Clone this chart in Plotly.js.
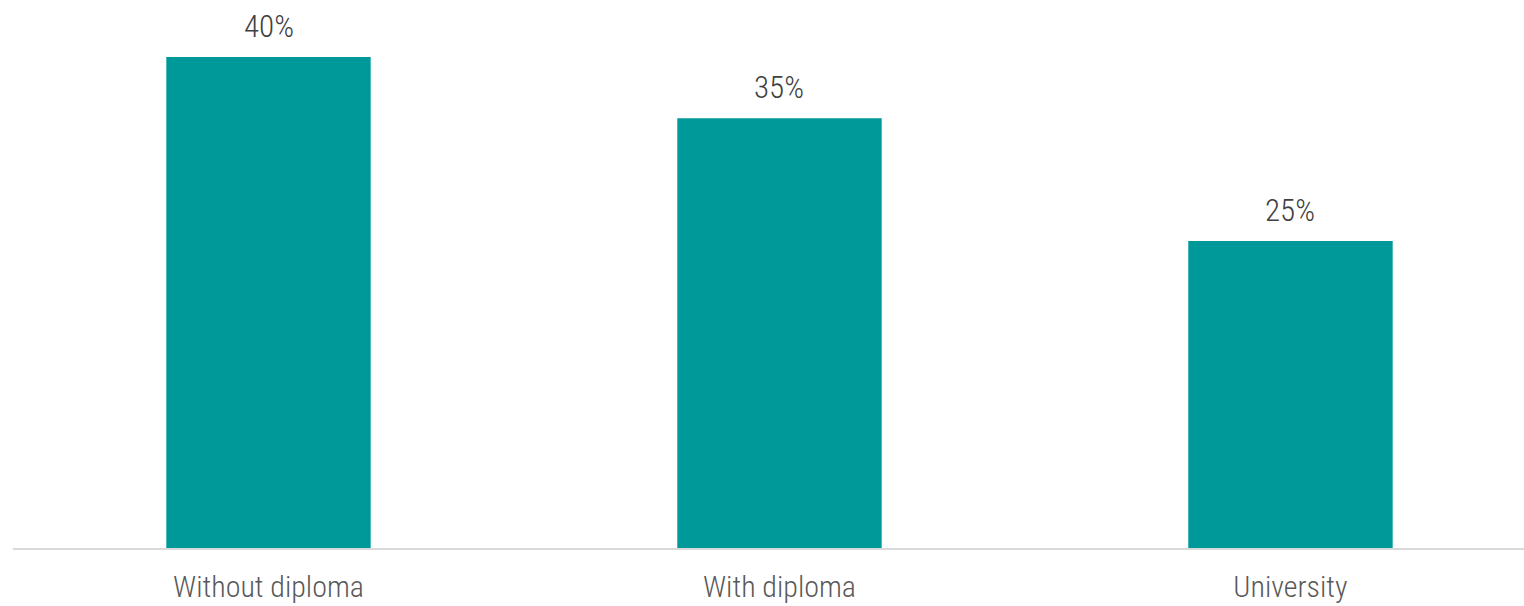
<!DOCTYPE html>
<html>
<head>
<meta charset="utf-8">
<script src="https://cdn.plot.ly/plotly-3.0.1.min.js"></script>
<style>html,body{margin:0;padding:0;background:#fff;}#chart{width:1524px;height:606px;}</style>
</head>
<body>
<div id="chart"></div>
<script>
const categories = ["Without diploma", "With diploma", "University"];
const values = [40, 35, 25];
const valueLabels = ["40%", "35%", "25%"];

const FONT = "'Liberation Sans Narrow', 'Arial Narrow', 'Roboto Condensed', 'Liberation Sans', sans-serif";

const trace = {
  type: "bar",
  x: categories,
  y: values,
  marker: {color: "#009999"},
  hoverinfo: "none"
};

const annotations = categories.map((c, i) => ({
  x: c,
  y: values[i],
  xref: "x",
  yref: "y",
  text: valueLabels[i],
  showarrow: false,
  yanchor: "bottom",
  yshift: 10,
  font: {family: FONT, size: 31, color: "#404040", weight: 300}
}));

const layout = {
  width: 1524,
  height: 606,
  margin: {l: 13, r: 0, t: 0, b: 58},
  paper_bgcolor: "#ffffff",
  plot_bgcolor: "#ffffff",
  bargap: 0.6,
  showlegend: false,
  annotations: annotations,
  xaxis: {
    range: [-0.5, 2.457],
    showline: true,
    linecolor: "#d9d9d9",
    linewidth: 2,
    ticks: "",
    showgrid: false,
    zeroline: false,
    tickfont: {family: FONT, size: 30, color: "#595959", weight: 300},
    ticklabelstandoff: 11
  },
  yaxis: {
    range: [0, 44.64],
    visible: false,
    showgrid: false,
    zeroline: false
  }
};

Plotly.newPlot("chart", [trace], layout, {displayModeBar: false, staticPlot: true});
</script>
</body>
</html>
